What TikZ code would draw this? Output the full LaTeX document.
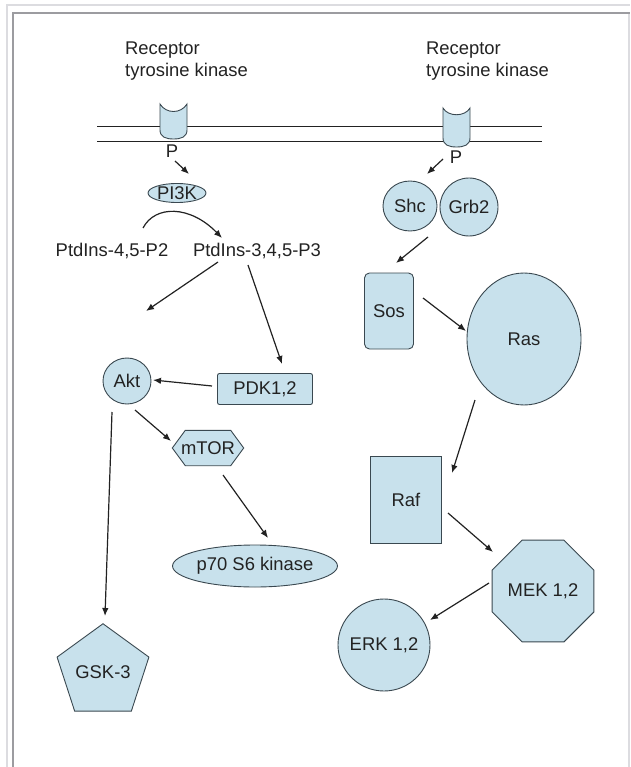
\documentclass[tikz,border=0pt]{standalone}
\usepackage{fontspec}
\setmainfont{Liberation Sans}
\usetikzlibrary{shapes.geometric,arrows.meta,calc,backgrounds}
\definecolor{nodefill}{HTML}{C8E1EC}
\definecolor{nodeline}{HTML}{3A4850}
\definecolor{ink}{HTML}{222222}
\definecolor{frameA}{HTML}{DCDCE0}
\definecolor{frameB}{HTML}{9C9CA0}
\begin{document}
\begin{tikzpicture}[x=1pt,y=-1pt,
  font=\fontsize{18.4}{22}\selectfont,
  mol/.style={draw=nodeline,fill=nodefill,line width=0.9pt,inner sep=0pt,text=ink},
  lbl/.style={inner sep=0pt,text=ink},
  arr/.style={draw=ink,line width=1.2pt,-{Latex[length=8pt,width=6.5pt]}},
  membrane/.style={draw=ink,line width=1pt},
]
\useasboundingbox (0,0) rectangle (630,767);
% frame
\draw[frameA,line width=2pt] (6.5,767) -- (6.5,5) -- (630,5);
\draw[frameA,line width=2pt] (629,13) -- (629,767);
\draw[frameB,line width=2.5pt] (13,767) -- (13,13) -- (630,13);
% membrane
\draw[membrane] (97,127) -- (542,127);
\draw[membrane] (97,142) -- (542,142);
% receptors
\filldraw[draw=nodeline,fill=nodefill,line width=0.9pt] (160,104) .. controls (166,114) and (181,114) .. (187,104) -- (187,130) .. controls (187,137) and (181,139) .. (173.5,139) .. controls (166,139) and (160,137) .. (160,130) -- cycle;
\filldraw[draw=nodeline,fill=nodefill,line width=0.9pt] (443,108) .. controls (448,117) and (465,117) .. (470,108) -- (470,138) .. controls (470,145) and (464,147) .. (456.5,147) .. controls (449,147) and (443,145) .. (443,138) -- cycle;
% labels
\node[lbl,align=left,anchor=west] (recL) at (125,61) {Receptor\\tyrosine kinase};
\node[lbl,align=left,anchor=west] (recR) at (426,61) {Receptor\\tyrosine kinase};
\node[lbl] (pL) at (172,151) {P};
\node[lbl] (pR) at (456,157) {P};
% left branch
\node[mol,ellipse,minimum width=58,minimum height=19] (pi3k) at (177,193) {PI3K};
\node[lbl] (ptdA) at (112,251) {PtdIns-4,5-P2};
\node[lbl] (ptdB) at (257,251) {PtdIns-3,4,5-P3};
\node[mol,ellipse,minimum width=48,minimum height=46] (akt) at (127,381) {Akt};
\node[mol,rounded corners=2,minimum width=95,minimum height=31] (pdk) at (265,389) {PDK1,2};
\node[lbl,minimum width=71,minimum height=35] (mtor) at (208,448) {mTOR};
\begin{scope}[on background layer]
\filldraw[draw=nodeline,fill=nodefill,line width=0.9pt] (mtor.west) -- ($(mtor.north west)+(13,0)$) -- ($(mtor.north east)+(-13,0)$) -- (mtor.east) -- ($(mtor.south east)+(-13,0)$) -- ($(mtor.south west)+(13,0)$) -- cycle;
\end{scope}
\node[mol,ellipse,minimum width=146,minimum height=42] (p70) at (255,566) {p70 S6 kinase};
\node[mol,regular polygon,regular polygon sides=5,minimum size=90] (gsk) at (103,672) {GSK-3};
% right branch
\node[mol,ellipse,minimum width=54,minimum height=50] (shc) at (410,206) {Shc};
\node[mol,circle,minimum size=58] (grb) at (469,207) {Grb2};
\node[mol,rounded corners=5,minimum width=49,minimum height=76] (sos) at (389,311) {Sos};
\node[mol,ellipse,minimum width=114,minimum height=132] (ras) at (524,339) {Ras};
\node[mol,minimum width=71,minimum height=87] (raf) at (406,500) {Raf};
\node[mol,regular polygon,regular polygon sides=8,minimum size=110] (mek) at (543,591) {MEK 1,2};
\node[mol,circle,minimum size=92] (erk) at (384,645) {ERK 1,2};
% connectors
\draw[arr] ($(pL)+(3,10)$) -- ($(pi3k)+(12,-19)$);
\draw[arr] ($(pR)+(-13,2)$) -- ($(shc)+(17,-32)$);
\draw[arr] ($(ptdA)+(31,-23)$) .. controls ($(ptdA)+(43,-46)$) and ($(ptdB)+(-67,-46)$) .. ($(ptdB)+(-35,-13)$);
\draw[arr] ($(ptdB)+(-39,11)$) -- ($(akt)+(19,-70)$);
\draw[arr] ($(ptdB)+(-9,14)$) -- ($(pdk)+(17,-25)$);
\draw[arr] ($(pdk)+(-53,-3)$) -- ($(akt)+(26,-1)$);
\draw[arr] ($(akt)+(8,29)$) -- ($(mtor)+(-37,-7)$);
\draw[arr] ($(akt)+(-15,31)$) -- ($(gsk)+(2,-56)$);
\draw[arr] ($(mtor)+(15,27)$) -- ($(p70)+(13,-28)$);
\draw[arr] ($(grb)+(-41,30)$) -- ($(sos)+(7,-48)$);
\draw[arr] ($(sos)+(34,-13)$) -- ($(ras)+(-58,-8)$);
\draw[arr] ($(ras)+(-49,61)$) -- ($(raf)+(46,-27)$);
\draw[arr] ($(raf)+(42,13)$) -- ($(mek)+(-50,-39)$);
\draw[arr] ($(mek)+(-54,-8)$) -- ($(erk)+(46,-25)$);
\end{tikzpicture}
\end{document}
